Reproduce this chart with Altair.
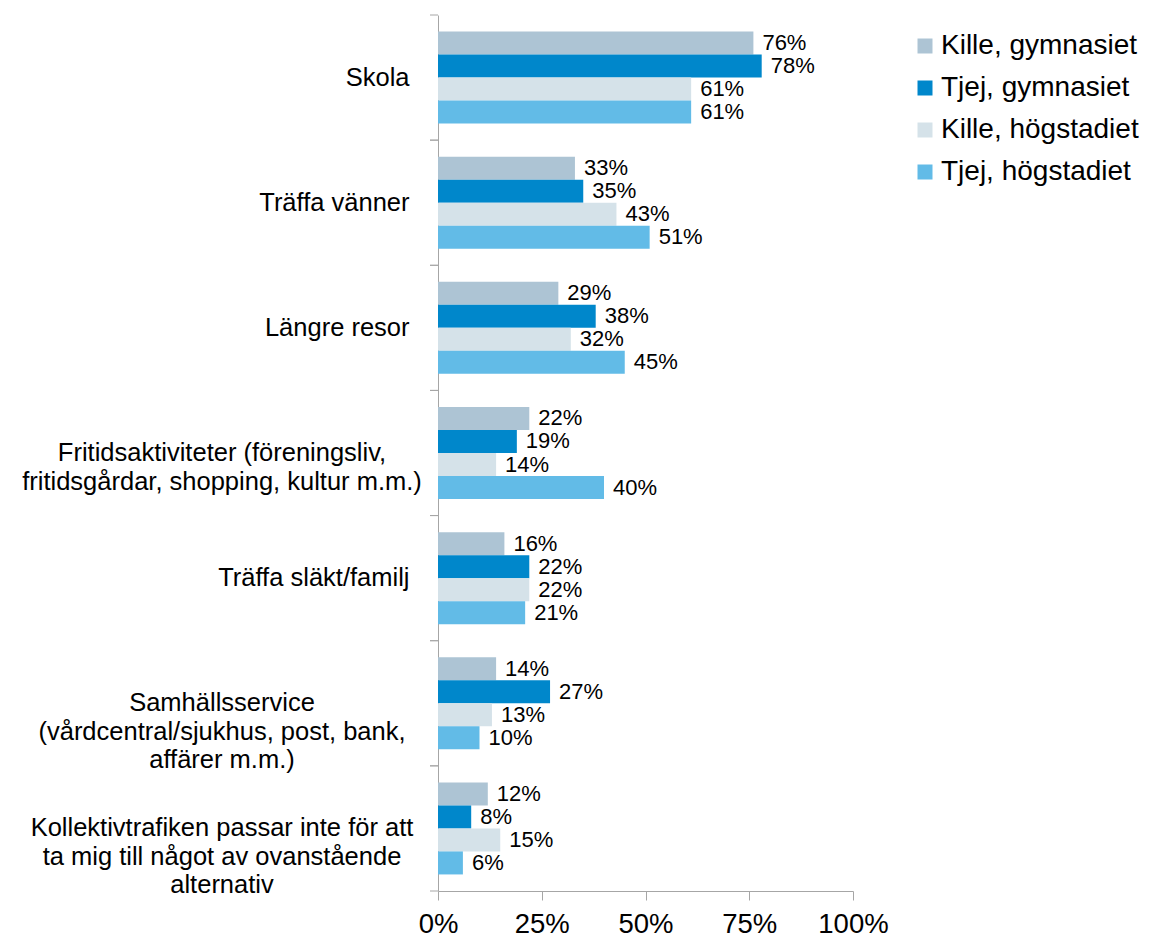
import altair as alt
import pandas as pd

# ---- data -------------------------------------------------------------
categories = [
    "Skola",
    "Träffa vänner",
    "Längre resor",
    "Fritidsaktiviteter (föreningsliv,|fritidsgårdar, shopping, kultur m.m.)",
    "Träffa släkt/familj",
    "Samhällsservice|(vårdcentral/sjukhus, post, bank,|affärer m.m.)",
    "Kollektivtrafiken passar inte för att|ta mig till något av ovanstående|alternativ",
]
series = ["Kille, gymnasiet", "Tjej, gymnasiet", "Kille, högstadiet", "Tjej, högstadiet"]
kille_gymnasiet = [76, 33, 29, 22, 16, 14, 12]
tjej_gymnasiet = [78, 35, 38, 19, 22, 27, 8]
kille_hogstadiet = [61, 43, 32, 14, 22, 13, 15]
tjej_hogstadiet = [61, 51, 45, 40, 21, 10, 6]
x_ticks = [0, 25, 50, 75, 100]

colors = ["#ADC4D4", "#0087CB", "#D5E2E9", "#62BBE7"]

values_by_series = [kille_gymnasiet, tjej_gymnasiet, kille_hogstadiet, tjej_hogstadiet]
rows = []
for s, vals in zip(series, values_by_series):
    for c, v in zip(categories, vals):
        rows.append({"cat": c, "series": s, "v": v, "label": f"{v}%"})
df = pd.DataFrame(rows)
df_lab = pd.DataFrame({"cat": categories})

FONT = "Liberation Sans"
GRAY = "#A6A6A6"

y_axis = alt.Axis(
    title=None,
    ticks=False,
    domainColor=GRAY,
    labelFontSize=25.5,
    labelFont=FONT,
    labelColor="black",
    labelPadding=29,
    labelExpr="indexof(datum.value, '|') >= 0 ? '' : datum.value",
    labelLimit=600,
)
y_scale = alt.Scale(paddingInner=0, paddingOuter=0)


def y_enc(band_pos=None):
    if band_pos is None:
        return alt.Y("cat:N", sort=categories, scale=y_scale, axis=y_axis)
    return alt.Y("cat:N", sort=categories, scale=y_scale, axis=y_axis,
                 bandPosition=band_pos)


yoff = alt.YOffset(
    "series:N", sort=series, scale=alt.Scale(paddingOuter=0.72, paddingInner=0)
)
x_enc = alt.X(
    "v:Q",
    scale=alt.Scale(domain=[0, 100], nice=False),
    axis=alt.Axis(
        title=None,
        values=x_ticks,
        labelExpr="datum.value + '%'",
        grid=False,
        tickSize=9,
        tickColor=GRAY,
        domainColor=GRAY,
        labelFontSize=27.5,
        labelFont=FONT,
        labelColor="black",
        labelPadding=10,
        labelFlush=False,
        labelOverlap=False,
    ),
)

bars = alt.Chart(df).mark_bar().encode(
    x=x_enc,
    y=y_enc(),
    yOffset=yoff,
    color=alt.Color(
        "series:N",
        scale=alt.Scale(domain=series, range=colors),
        legend=alt.Legend(
            title=None,
            orient="none",
            legendX=473,
            legendY=17,
            padding=0,
            symbolType="square",
            symbolSize=225,
            symbolStrokeWidth=0,
            labelFontSize=28,
            labelFont=FONT,
            labelColor="black",
            labelOffset=2,
            rowPadding=14,
            labelLimit=400,
        ),
    ),
)

values_text = alt.Chart(df).mark_text(
    align="left", baseline="middle", dx=9, fontSize=22, font=FONT, color="black"
).encode(x=x_enc, y=y_enc(), yOffset=yoff, text="label:N")

# category boundary ticks on the y axis
tick_start = alt.Chart(df_lab).mark_rule(color=GRAY, strokeWidth=1).encode(
    y=y_enc(0), x=alt.value(-8), x2=alt.value(0)
)
tick_end = alt.Chart(df_lab).mark_rule(color=GRAY, strokeWidth=1).encode(
    y=y_enc(1), x=alt.value(-8), x2=alt.value(0)
)

multi_labels = (
    alt.Chart(df_lab)
    .transform_filter("indexof(datum.cat, '|') >= 0")
    .mark_text(
        align="center",
        baseline="middle",
        lineBreak="|",
        fontSize=25.5,
        lineHeight=28.5,
        font=FONT,
        color="black",
    )
    .encode(y=y_enc(), x=alt.value(-216), text="cat:N")
)

chart = (
    alt.layer(bars, values_text, tick_start, tick_end, multi_labels)
    .properties(
        width=415,
        height=876,
        autosize=alt.AutoSizeParams(type="none"),
        padding={"left": 430, "top": 7, "right": 288, "bottom": 45},
    )
    .configure(font=FONT)
    .configure_view(strokeWidth=0)
)

chart.save("out.html", embed_options={"renderer": "svg", "actions": False})
